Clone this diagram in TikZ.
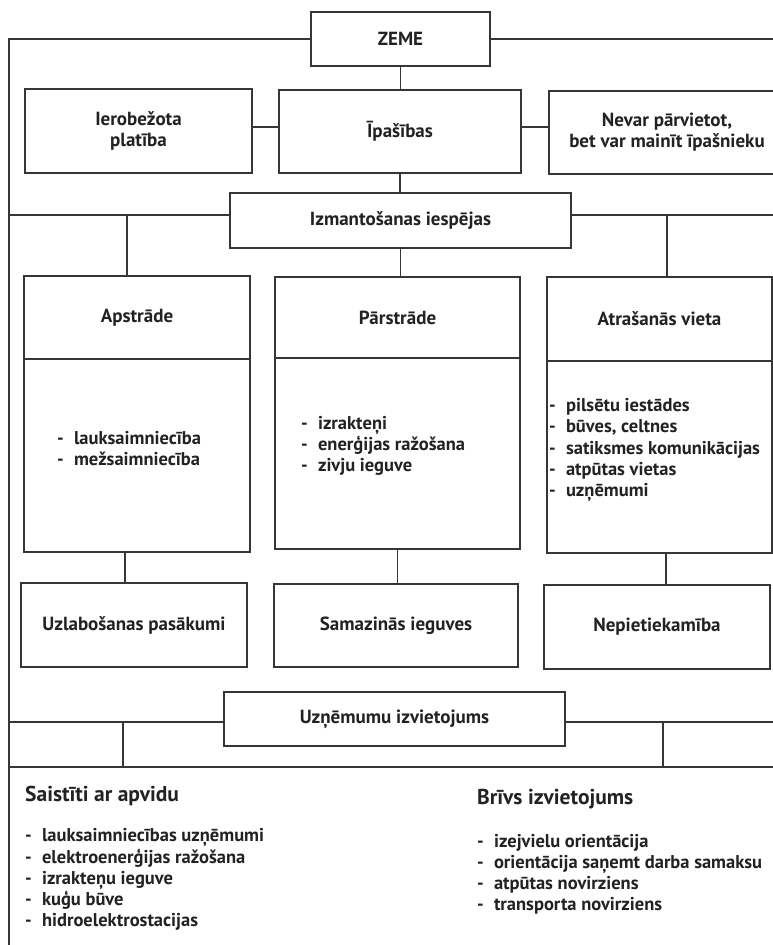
\documentclass[tikz,border=0pt]{standalone}
\usepackage{fontspec}
\setmainfont{PT Sans}
\newcommand\dtxt{\bfseries\fontsize{19}{21}\selectfont}
\newcommand\dlst{\bfseries\fontsize{18.5}{21.1}\selectfont}
\newcommand\dttl{\bfseries\fontsize{21.5}{23}\selectfont}
\newcommand\ditem[1]{-\hspace{0.55em}#1}
\definecolor{linec}{HTML}{363636}
\definecolor{textc}{HTML}{222222}
\begin{document}
\begin{tikzpicture}[x=1pt,y=-1pt,
  box/.style={draw=linec, line width=1.4pt, inner sep=0pt, outer sep=0pt,
    align=center, font=\dtxt, text=textc},
  ln/.style={draw=linec, line width=1.4pt},
  lst/.style={anchor=west, align=left, inner sep=0pt, font=\dlst, text=textc}]
\useasboundingbox[fill=white] (0,0) rectangle (773,945);
% frame helpers
\coordinate (fl) at (9,39);
\coordinate (fb) at (9,947);
\coordinate (R) at (777,0);
\coordinate (r1) at (0,127);
\coordinate (r2) at (0,215);
\coordinate (r3) at (0,722);
\coordinate (r4) at (0,767);
\coordinate (b1) at (127,215);
\coordinate (b2) at (667,215);
\coordinate (c1) at (125,0);
\coordinate (c3) at (666,0);
\coordinate (d1) at (123,722);
\coordinate (d2) at (663,722);
% top level
\node[box, minimum width=179, minimum height=54] (zeme) at (400.5,39) {ZEME};
\node[box, minimum width=227, minimum height=84] (ierob) at (138.5,131) {Ierobežota\\platība};
\node[box, minimum width=242, minimum height=83] (ipas) at (400,131.5) {Īpašības};
\node[box, minimum width=236, minimum height=83] (nevar) at (667,132.5) {Nevar pārvietot,\\bet var mainīt īpašnieku};
\node[box, minimum width=341, minimum height=55] (izm) at (400.5,220.5) {Izmantošanas iespējas};
% columns
\node[box, minimum width=226, minimum height=83] (apsH) at (137,317.5) {Apstrāde};
\node[box, minimum width=226, minimum height=193] (apsB) at (137,455.5) {};
\node[box, minimum width=245, minimum height=81] (parsH) at (397.5,317.5) {Pārstrāde};
\node[box, minimum width=245, minimum height=191] (parsB) at (397.5,453.5) {};
\node[box, minimum width=225, minimum height=84] (atrH) at (659.5,319) {Atrašanās vieta};
\node[box, minimum width=225, minimum height=192] (atrB) at (659.5,457) {};
\node[lst] (apsL) at (57,448.5) {\ditem{lauksaimniecība}\\\ditem{mežsaimniecība}};
\node[lst] (parsL) at (301,445.5) {\ditem{izrakteņi}\\\ditem{enerģijas ražošana}\\\ditem{zivju ieguve}};
\node[lst] (atrL) at (549,450) {\ditem{pilsētu iestādes}\\\ditem{būves, celtnes}\\\ditem{satiksmes komunikācijas}\\\ditem{atpūtas vietas}\\\ditem{uzņēmumi}};
\node[box, minimum width=226, minimum height=84] (uzl) at (134,625) {Uzlabošanas pasākumi};
\node[box, minimum width=244, minimum height=83] (sam) at (396,625.5) {Samazinās ieguves};
\node[box, minimum width=226, minimum height=84] (nep) at (657,627) {Nepietiekamība};
\node[box, minimum width=341, minimum height=54] (uzn) at (394.5,719) {Uzņēmumu izvietojums};
% bottom texts
\node[lst, font=\dttl] (t1) at (25,796) {Saistīti ar apvidu};
\node[lst] (l1) at (25,879.5) {\ditem{lauksaimniecības uzņēmumi}\\\ditem{elektroenerģijas ražošana}\\\ditem{izrakteņu ieguve}\\\ditem{kuģu būve}\\\ditem{hidroelektrostacijas}};
\node[lst, font=\dttl] (t2) at (477,799) {Brīvs izvietojums};
\node[lst] (l2) at (477,874.5) {\ditem{izejvielu orientācija}\\\ditem{orientācija saņemt darba samaksu}\\\ditem{atpūtas novirziens}\\\ditem{transporta novirziens}};
% connectors
\draw[ln] (zeme.west) -- (zeme.west -| fl) -- (fb);
\draw[ln] (zeme.east) -- (zeme.east -| R);
\draw[ln] (zeme.south) -- (zeme.south |- ipas.north);
\draw[ln] (ierob.east |- r1) -- (ipas.west |- r1);
\draw[ln] (ipas.east |- r1) -- (nevar.west |- r1);
\draw[ln] (ipas.south) -- (ipas.south |- izm.north);
\draw[ln] (izm.west |- r2) -- (fl |- r2);
\draw[ln] (izm.east |- r2) -- (R |- r2);
\draw[ln] (b1) -- (apsH.north -| b1);
\draw[ln] (b2) -- (atrH.north -| b2);
\draw[ln] (izm.south) -- (izm.south |- parsH.north);
\draw[ln] (apsB.south -| c1) -- (uzl.north -| c1);
\draw[ln] (parsB.south) -- (parsB.south |- sam.north);
\draw[ln] (atrB.south -| c3) -- (nep.north -| c3);
\draw[ln] (uzn.west |- r3) -- (fl |- r3);
\draw[ln] (uzn.east |- r3) -- (R |- r3);
\draw[ln] (d1) -- (d1 |- r4);
\draw[ln] (d2) -- (d2 |- r4);
\draw[ln] (fl |- r4) -- (R |- r4);
\end{tikzpicture}
\end{document}
